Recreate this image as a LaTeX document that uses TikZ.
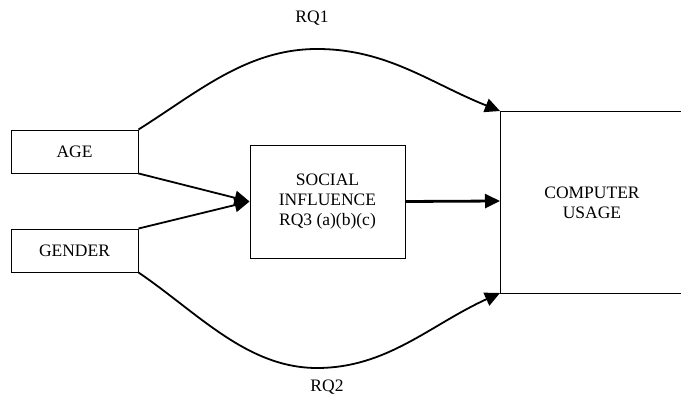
\documentclass[tikz,border=0pt]{standalone}
\usepackage{fontspec}
\setmainfont{Liberation Serif}
\usetikzlibrary{arrows.meta}
\begin{document}
\begin{tikzpicture}[x=1pt,y=1pt,
  box/.style={draw,line width=0.9pt,inner sep=0pt,align=center,font=\fontsize{17.5}{20}\selectfont},
  lbl/.style={font=\fontsize{17.5}{20}\selectfont,inner sep=0pt,align=center},
  arr/.style={line width=1.8pt,-{Triangle[length=15pt,width=14pt]}},
  line/.style={line width=0.9pt}]
\useasboundingbox (0,0) rectangle (681,396);
\node[box,minimum width=127pt,minimum height=43pt] (age) at (74.5,244.5) {AGE};
\node[box,minimum width=127pt,minimum height=43pt] (gender) at (74.5,145.5) {GENDER};
\node[box,minimum width=155pt,minimum height=113pt] (soc) at (327.5,194.5) {SOCIAL\\INFLUENCE\\RQ3 (a)(b)(c)};
\coordinate (cu1) at (500,285);
\coordinate (cu2) at (500,103);
\coordinate (cum) at (500,195);
\coordinate (cur1) at (681,285);
\coordinate (cur2) at (681,103);
\coordinate (top) at (317,347);
\coordinate (bot) at (317,28);
\draw[line] (cur1) -- (cu1) -- (cu2) -- (cur2);
\node[lbl] (cu) at (592,193) {COMPUTER\\USAGE};
\draw[arr] (age.south east) -- (soc.west);
\draw[arr] (gender.north east) -- (soc.west);
\draw[arr,line width=2.8pt] (soc.east) -- (cum);
\draw[arr] (age.north east) .. controls (198,304) and (247,347) .. (top)
  .. controls (387,347) and (430,313) .. (cu1);
\draw[arr] (gender.south east) .. controls (198,83) and (247,28) .. (bot)
  .. controls (387,28) and (430,71) .. (cu2);
\node[lbl] (rq1) at (312,378) {RQ1};
\node[lbl] (rq2) at (327,9) {RQ2};
\end{tikzpicture}
\end{document}
